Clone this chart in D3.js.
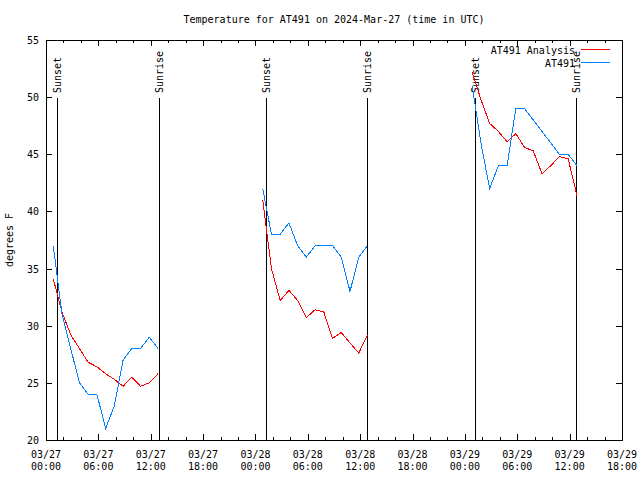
<!DOCTYPE html>
<html><head><meta charset="utf-8">
<script src="https://cdn.jsdelivr.net/npm/d3@7"></script>
<style>
body{margin:0;background:#fff}
svg{display:block}
text{font-family:"DejaVu Sans Mono",monospace;font-size:10px;fill:#000}
</style>
</head><body>
<svg id="c" width="640" height="480"></svg>
<script>
const obsTimes = [
  "2024-03-27 00:50","2024-03-27 01:50","2024-03-27 02:50","2024-03-27 03:50","2024-03-27 04:50","2024-03-27 05:50","2024-03-27 06:50","2024-03-27 07:50","2024-03-27 08:50","2024-03-27 09:50","2024-03-27 10:50","2024-03-27 11:50","2024-03-27 12:50",
  "2024-03-28 00:50","2024-03-28 01:50","2024-03-28 02:50","2024-03-28 03:50","2024-03-28 04:50","2024-03-28 05:50","2024-03-28 06:50","2024-03-28 07:50","2024-03-28 08:50","2024-03-28 09:50","2024-03-28 10:50","2024-03-28 11:50","2024-03-28 12:50",
  "2024-03-29 00:50","2024-03-29 01:50","2024-03-29 02:50","2024-03-29 03:50","2024-03-29 04:50","2024-03-29 05:50","2024-03-29 06:50","2024-03-29 07:50","2024-03-29 08:50","2024-03-29 09:50","2024-03-29 10:50","2024-03-29 11:50","2024-03-29 12:50"
];
const analysis = [
  34.1,31.2,29.2,28.0,26.8,26.4,25.8,25.3,24.7,25.5,24.7,25.0,25.8,
  41.0,35.0,32.2,33.1,32.2,30.7,31.4,31.2,28.9,29.4,28.5,27.6,29.2,
  52.2,49.8,47.7,47.0,46.1,46.8,45.6,45.3,43.3,44.0,44.8,44.6,41.4
];
const observed = [
  37,31,28,25,24,24,21,23,27,28,28,29,28,
  42,38,38,39,37,36,37,37,37,36,33,36,37,
  51,46,42,44,44,49,49,48,47,46,45,45,44
];
const sunsets = ["2024-03-27 01:18","2024-03-28 01:15","2024-03-29 01:11"];
const sunrises = ["2024-03-27 12:59","2024-03-28 12:49","2024-03-29 12:46"];
const yTicks = [20,25,30,35,40,45,50,55];
const xTickTimes = ["2024-03-27 00:00","2024-03-27 06:00","2024-03-27 12:00","2024-03-27 18:00",
  "2024-03-28 00:00","2024-03-28 06:00","2024-03-28 12:00","2024-03-28 18:00",
  "2024-03-29 00:00","2024-03-29 06:00","2024-03-29 12:00","2024-03-29 18:00"];
const seriesNames = ["AT491 Analysis","AT491"];
const seriesColors = ["#ff0000","#0080ff"];

const parse = d3.utcParse("%Y-%m-%d %H:%M");
const L = 46, R = 622, T = 40, B = 440;
const x = d3.scaleUtc().domain([parse(xTickTimes[0]), parse(xTickTimes[xTickTimes.length-1])]).range([L, R]);
const y = d3.scaleLinear().domain([20,55]).range([B, T]);
const svg = d3.select("#c");
const crisp = v => Math.round(v) + 0.5;

// title
svg.append("text").attr("x", 334).attr("y", 23).attr("text-anchor","middle")
  .text("Temperature for AT491 on 2024-Mar-27 (time in UTC)");
// y label
svg.append("text").attr("transform","translate(13,240) rotate(-90)").attr("text-anchor","middle").text("degrees F");

const g = svg.append("g").attr("shape-rendering","crispEdges");

// ticks
const xMajor = xTickTimes.map(parse);
const xMinor = d3.utcHour.every(2).range(x.domain()[0], x.domain()[1]);
xMinor.forEach(t => {
  const px = crisp(x(t));
  g.append("line").attr("x1",px).attr("x2",px).attr("y1",B).attr("y2",B-3).attr("stroke","#000");
  g.append("line").attr("x1",px).attr("x2",px).attr("y1",T).attr("y2",T+3).attr("stroke","#000");
});
xMajor.forEach(t => {
  const px = crisp(x(t));
  g.append("line").attr("x1",px).attr("x2",px).attr("y1",B).attr("y2",B-6).attr("stroke","#000");
  g.append("line").attr("x1",px).attr("x2",px).attr("y1",T).attr("y2",T+6).attr("stroke","#000");
  const tx = svg.append("text").attr("text-anchor","middle");
  tx.append("tspan").attr("x", x(t)).attr("y", 458).text(d3.utcFormat("%m/%d")(t));
  tx.append("tspan").attr("x", x(t)).attr("y", 470).text(d3.utcFormat("%H:%M")(t));
});
yTicks.forEach(v => {
  const py = crisp(y(v));
  g.append("line").attr("x1",L).attr("x2",L+6).attr("y1",py).attr("y2",py).attr("stroke","#000");
  g.append("line").attr("x1",R).attr("x2",R-6).attr("y1",py).attr("y2",py).attr("stroke","#000");
  svg.append("text").attr("x",39).attr("y",y(v)+4).attr("text-anchor","end").text(v);
});

// sunset/sunrise lines
const events = sunsets.map(s => ({t: parse(s), name: "Sunset"}))
  .concat(sunrises.map(s => ({t: parse(s), name: "Sunrise"})));
events.forEach(e => {
  const px = crisp(x(e.t));
  g.append("line").attr("x1",px).attr("x2",px).attr("y1",98).attr("y2",B).attr("stroke","#000");
  svg.append("text").attr("transform",`translate(${x(e.t)+4},93) rotate(-90)`).attr("text-anchor","start").text(e.name);
});

// data
const times = obsTimes.map(parse);
function segments(vals){
  const segs = []; let cur = [];
  times.forEach((t,i) => {
    if (i>0 && (t - times[i-1]) > 3*3600e3) { segs.push(cur); cur = []; }
    cur.push([t, vals[i]]);
  });
  segs.push(cur);
  return segs;
}
const line = d3.line().x(d => x(d[0])).y(d => y(d[1]));
[analysis, observed].forEach((vals, si) => {
  segments(vals).forEach(seg => {
    svg.append("path").attr("d", line(seg)).attr("fill","none")
      .attr("stroke", seriesColors[si]).attr("stroke-width",1).attr("shape-rendering","crispEdges");
  });
});

// border
g.append("rect").attr("x",L+0.5).attr("y",T+0.5).attr("width",R-L).attr("height",B-T)
  .attr("fill","none").attr("stroke","#000");

// legend
seriesNames.forEach((n, i) => {
  const ly = 49.5 + i*13;
  svg.append("text").attr("x",575).attr("y",ly+4).attr("text-anchor","end").text(n);
  g.append("line").attr("x1",581).attr("x2",610).attr("y1",Math.floor(ly)+0.5).attr("y2",Math.floor(ly)+0.5)
    .attr("stroke", seriesColors[i]);
});
</script>
</body></html>
